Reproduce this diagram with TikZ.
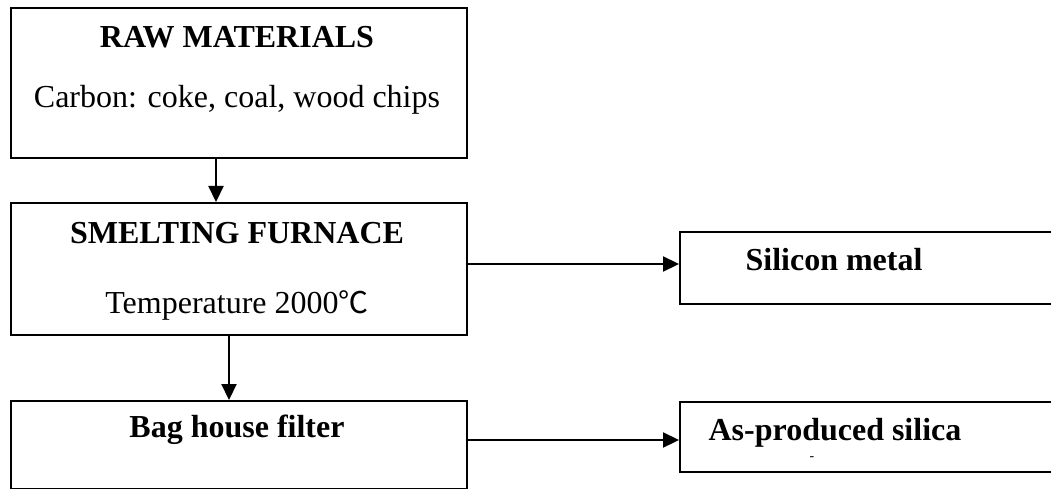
\documentclass[tikz,border=0pt]{standalone}
\usepackage{fontspec}
\setmainfont{Liberation Serif}
\newfontfamily\degfont{Noto Sans CJK SC}
\usetikzlibrary{arrows.meta}
\begin{document}
\begin{tikzpicture}[x=1pt,y=-1pt,
  box/.style={draw,line width=2.2pt,rectangle,anchor=north west,inner sep=0pt},
  lbl/.style={font=\fontsize{32}{36}\selectfont,inner sep=0pt},
  blbl/.style={font=\fontsize{32}{36}\selectfont\bfseries,inner sep=0pt},
  arr/.style={line width=2.2pt,-{Triangle[length=16pt,width=15pt]}}]
\useasboundingbox (0,0) rectangle (1051,489);
\clip (0,0) rectangle (1051,489);
% boxes
\node[box,minimum width=456pt,minimum height=150pt] (raw) at (10,7) {};
\node[box,minimum width=456pt,minimum height=132pt] (smelt) at (10,202) {};
\node[box,minimum width=456pt,minimum height=88pt] (bag) at (10,400) {};
\node[box,minimum width=400pt,minimum height=72pt] (simetal) at (679,231) {};
\node[box,minimum width=400pt,minimum height=70pt] (silica) at (679,401) {};
% texts
\node[blbl] (t1) at (237,37) {RAW MATERIALS};
\node[lbl] (t2) at (237,100) {Carbon: coke, coal, wood chips};
\node[blbl] (t3) at (237,233) {SMELTING FURNACE};
\node[lbl] (t4) at (237,305) {Temperature 2000{\degfont\fontsize{30}{34}\selectfont ℃}};
\node[blbl] (t5) at (237,430) {Bag house filter};
\node[blbl] (t6) at (834,260) {Silicon metal};
\node[blbl] (t7) at (835,433) {As-produced silica};
\node[lbl,font=\fontsize{14}{16}\selectfont] (t8) at (812,459) {-};
% arrows
\draw[arr] ([xshift=206pt]raw.south west) -- ([xshift=206pt]smelt.north west);
\draw[arr] ([xshift=219pt]smelt.south west) -- ([xshift=219pt]bag.north west);
\draw[arr] ([yshift=-62pt]smelt.north east) -- ([yshift=-33pt]simetal.north west);
\draw[arr] ([yshift=-40pt]bag.north east) -- ([yshift=-39pt]silica.north west);
\end{tikzpicture}
\end{document}
